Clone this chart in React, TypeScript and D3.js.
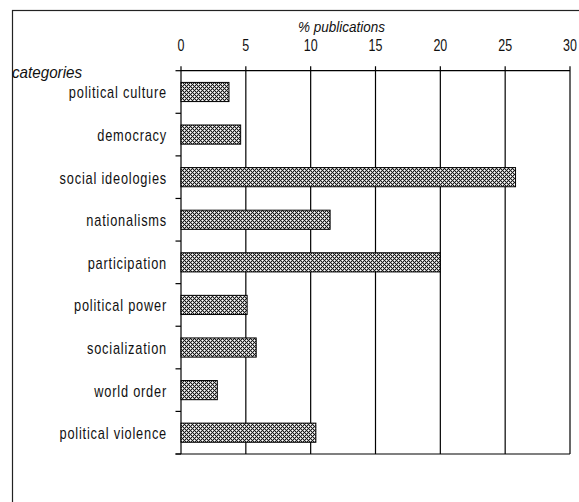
import React from "react";
import * as d3 from "d3";

const categories = [
  "political culture",
  "democracy",
  "social ideologies",
  "nationalisms",
  "participation",
  "political power",
  "socialization",
  "world order",
  "political violence",
];
const values = [3.7, 4.6, 25.8, 11.5, 20.0, 5.1, 5.8, 2.8, 10.4];
const xTicks = [0, 5, 10, 15, 20, 25, 30];
const xTitle = "% publications";
const yTitle = "categories";

const W = 579;
const H = 502;
const left = 181;
const right = 570;
const top = 70.7;
const bottom = 454;
const font = "'Liberation Sans', Arial, sans-serif";

const blackPx = [
  [0, 0], [1, 1], [2, 2], [3, 3], [1, 3], [3, 1],
];
const whitePx = [
  [0, 2], [2, 0],
];

export default function App() {
  const x = d3.scaleLinear().domain([0, 30]).range([left, right]);
  const y = d3
    .scaleBand<string>()
    .domain(categories)
    .range([top, bottom])
    .paddingInner(0.55)
    .paddingOuter(0.275);
  const step = y.step();
  const boundaries = d3.range(categories.length + 1).map((i) => top + i * step);

  return (
    <svg
      width={W}
      height={H}
      style={{ position: "absolute", left: 0, top: 0, background: "#fff" }}
    >
      <defs>
        <pattern id="hatch" width="4" height="4" patternUnits="userSpaceOnUse">
          <rect width="4" height="4" fill="#b4b4b4" />
          {blackPx.map(([px, py], i) => (
            <rect key={"b" + i} x={px} y={py} width="1" height="1" fill="#1a1a1a" />
          ))}
          {whitePx.map(([px, py], i) => (
            <rect key={"w" + i} x={px} y={py} width="1" height="1" fill="#fff" />
          ))}
        </pattern>
      </defs>
      {/* outer frame */}
      <rect x={12.5} y={10.5} width={700} height={700} fill="none" stroke="#222" strokeWidth={1.2} />

      {/* gridlines */}
      {xTicks.map((t) => (
        <line
          key={"g" + t}
          x1={x(t)}
          x2={x(t)}
          y1={top - 4.5}
          y2={bottom}
          stroke="#000"
          strokeWidth={1.2}
        />
      ))}
      <line x1={left} x2={right} y1={top} y2={top} stroke="#000" strokeWidth={1.2} />
      <line x1={left - 5.5} x2={right} y1={bottom} y2={bottom} stroke="#000" strokeWidth={1.2} />
      {boundaries.map((b, i) => (
        <line key={"lt" + i} x1={left - 5.5} x2={left} y1={b} y2={b} stroke="#000" strokeWidth={1.2} />
      ))}

      {/* bars */}
      {categories.map((c, i) => (
        <rect
          key={c}
          x={x(0)}
          y={y(c)}
          width={x(values[i]) - x(0)}
          height={y.bandwidth()}
          fill="url(#hatch)"
          stroke="#000"
          strokeWidth={1}
        />
      ))}

      {/* tick labels */}
      {xTicks.map((t) => (
        <text
          key={"t" + t}
          transform={`translate(${x(t)},51) scale(0.78,1)`}
          textAnchor="middle"
          fontFamily={font}
          fontSize={16}
          fill="#111"
        >
          {t}
        </text>
      ))}
      <text
        transform="translate(298,32) scale(0.9,1)"
        fontFamily={font}
        fontSize={15}
        fontStyle="italic"
        fill="#111"
      >
        {xTitle}
      </text>
      <text
        transform="translate(12,78) scale(0.95,1)"
        fontFamily={font}
        fontSize={16}
        fontStyle="italic"
        fill="#111"
      >
        {yTitle}
      </text>

      {/* category labels */}
      {categories.map((c) => (
        <text
          key={"l" + c}
          transform={`translate(167,${(y(c) as number) + y.bandwidth() / 2 + 6.5}) scale(0.8,1)`}
          textAnchor="end"
          fontFamily={font}
          fontSize={16}
          letterSpacing={1}
          fill="#111"
        >
          {c}
        </text>
      ))}
    </svg>
  );
}
